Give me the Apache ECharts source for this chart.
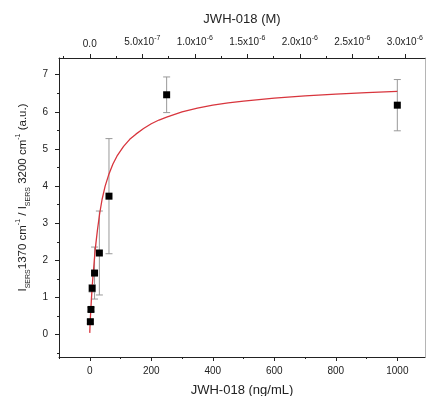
<!DOCTYPE html>
<html><head><meta charset="utf-8">
<script src="https://cdn.jsdelivr.net/npm/echarts@6/dist/echarts.min.js"></script>
<style>html,body{margin:0;padding:0;background:#fff}#c{width:427px;height:396px}</style>
</head><body><div id="c"></div>
<script>
// Measured data (ng/mL vs intensity ratio)
const concNgMl = [1.95, 3.9, 7.8, 15.6, 31.25, 62.5, 250, 1000];
const ratio    = [0.35, 0.68, 1.25, 1.66, 2.2, 3.73, 6.46, 6.18];
const ratioErr = [0.05, 0.05, 0.1, 0.7, 1.13, 1.55, 0.48, 0.69];
// Fitted curve
const fitX = [0, 1, 2, 3, 4, 6, 8, 10, 12, 16, 20, 25, 32, 40, 50, 62.5, 75, 90, 110, 130, 150, 175, 200, 225, 250, 300, 350, 400, 450, 500, 600, 700, 800, 900, 1000];
const fitY = [0.05, 0.27, 0.44, 0.61, 0.75, 1.04, 1.3, 1.52, 1.72, 2.13, 2.46, 2.82, 3.25, 3.64, 4.0, 4.33, 4.59, 4.83, 5.07, 5.26, 5.4, 5.55, 5.68, 5.78, 5.86, 6.0, 6.1, 6.18, 6.24, 6.29, 6.37, 6.43, 6.48, 6.52, 6.55];
// Tick labels
const bottomTicks = [0, 200, 400, 600, 800, 1000];
const bottomMinor = [-100, 100, 300, 500, 700, 900];
const leftTicks = [0, 1, 2, 3, 4, 5, 6, 7];
const leftMinor = [-0.5, 0.5, 1.5, 2.5, 3.5, 4.5, 5.5, 6.5];
const topTicks = [0, 5e-7, 1e-6, 1.5e-6, 2e-6, 2.5e-6, 3e-6];
const topMinor = [-2.5e-7, 2.5e-7, 7.5e-7, 1.25e-6, 1.75e-6, 2.25e-6, 2.75e-6];
const MOLAR_PER_NGML = 1e-6 / 341.4;

const X_MIN = -100, X_MAX = 1090, Y_MIN = -0.6, Y_MAX = 7.45;
const FONT = 'Liberation Sans, Arial, sans-serif';
const AX = '#222';

function topFmt(v) {
  if (Math.abs(v) < 1e-12) return '0.0';
  const e = Math.floor(Math.log10(v) + 1e-9);
  const m = (v / Math.pow(10, e)).toFixed(1);
  return m + 'x10{sup|' + e + '}';
}
function plainFmt(v) { return String(v); }

const chart = echarts.init(document.getElementById('c'), null, {renderer: 'canvas'});
const grid = {left: 59, right: 2, top: 58, bottom: 39, containLabel: false, outerBoundsMode: 'none'};
const lbl = {color: '#222', fontFamily: FONT, fontSize: 10};
const line = {show: true, onZero: false, lineStyle: {color: AX, width: 1}};
const noLine = {show: false, onZero: false};

chart.setOption({
  animation: false,
  backgroundColor: '#fff',
  grid: grid,
  xAxis: [
    {type: 'value', position: 'bottom', min: X_MIN, max: X_MAX,
     name: 'JWH-018 (ng/mL)', nameLocation: 'middle', nameGap: 27,
     nameTextStyle: {fontFamily: FONT, fontSize: 13, color: '#222'},
     axisLine: line,
     axisTick: {show: true, length: 4, customValues: bottomTicks, lineStyle: {color: AX}},
     axisLabel: Object.assign({customValues: bottomTicks, margin: 9, formatter: plainFmt}, lbl),
     splitLine: {show: false}},
    {type: 'value', position: 'bottom', min: X_MIN, max: X_MAX,
     axisLine: noLine,
     axisTick: {show: true, length: 2, customValues: bottomMinor, lineStyle: {color: AX}},
     axisLabel: {show: false}, splitLine: {show: false}},
    {type: 'value', position: 'top', min: X_MIN * MOLAR_PER_NGML, max: X_MAX * MOLAR_PER_NGML,
     name: 'JWH-018 (M)', nameLocation: 'middle', nameGap: 32,
     nameTextStyle: {fontFamily: FONT, fontSize: 13, color: '#222'},
     axisLine: line,
     axisTick: {show: true, length: 4, customValues: topTicks, lineStyle: {color: AX}},
     axisLabel: Object.assign({customValues: topTicks, margin: 9, formatter: topFmt,
       rich: {sup: {fontSize: 7, fontFamily: FONT, color: '#222', verticalAlign: 'top', lineHeight: 14}}}, lbl),
     splitLine: {show: false}},
    {type: 'value', position: 'top', min: X_MIN * MOLAR_PER_NGML, max: X_MAX * MOLAR_PER_NGML,
     axisLine: noLine,
     axisTick: {show: true, length: 2, customValues: topMinor, lineStyle: {color: AX}},
     axisLabel: {show: false}, splitLine: {show: false}}
  ],
  yAxis: [
    {type: 'value', position: 'left', min: Y_MIN, max: Y_MAX,
     name: 'I{sub|SERS}1370 cm{sup|-1} / I{sub|SERS} 3200 cm{sup|-1} (a.u.)',
     nameLocation: 'middle', nameGap: 27,
     nameTextStyle: {fontFamily: FONT, fontSize: 11.5, color: '#222', padding: [0, 0, 0, 20],
       width: 400, overflow: 'none',
       rich: {sub: {fontSize: 7, fontFamily: FONT, color: '#222', verticalAlign: 'bottom', lineHeight: 17},
              sup: {fontSize: 7, fontFamily: FONT, color: '#222', verticalAlign: 'top', lineHeight: 17}}},
     axisLine: line,
     axisTick: {show: true, length: 4, customValues: leftTicks, lineStyle: {color: AX}},
     axisLabel: Object.assign({customValues: leftTicks, margin: 11}, lbl),
     splitLine: {show: false}},
    {type: 'value', position: 'left', min: Y_MIN, max: Y_MAX,
     axisLine: noLine,
     axisTick: {show: true, length: 2, customValues: leftMinor, lineStyle: {color: AX}},
     axisLabel: {show: false}, splitLine: {show: false}},
    {type: 'value', position: 'right', min: Y_MIN, max: Y_MAX,
     axisLine: {show: true, onZero: false, lineStyle: {color: '#b5b5b5', width: 1}},
     axisTick: {show: false}, axisLabel: {show: false}, splitLine: {show: false}}
  ],
  series: [
    {type: 'custom', xAxisIndex: 0, yAxisIndex: 0, z: 1,
     data: concNgMl.map((x, i) => [x, ratio[i] - ratioErr[i], ratio[i] + ratioErr[i]]),
     encode: {x: 0, y: [1, 2]},
     renderItem: function (params, api) {
       const x = api.value(0);
       const p1 = api.coord([x, api.value(2)]);
       const p2 = api.coord([x, api.value(1)]);
       const w = 3.5;
       const st = {stroke: '#999', lineWidth: 1};
       return {type: 'group', children: [
         {type: 'line', shape: {x1: p1[0], y1: p1[1], x2: p2[0], y2: p2[1]}, style: st},
         {type: 'line', shape: {x1: p1[0] - w, y1: p1[1], x2: p1[0] + w, y2: p1[1]}, style: st},
         {type: 'line', shape: {x1: p2[0] - w, y1: p2[1], x2: p2[0] + w, y2: p2[1]}, style: st}
       ]};
     }},
    {type: 'line', xAxisIndex: 0, yAxisIndex: 0, z: 2,
     data: fitX.map((x, i) => [x, fitY[i]]),
     smooth: false, showSymbol: false,
     lineStyle: {color: '#d8353d', width: 1.3}},
    {type: 'scatter', xAxisIndex: 0, yAxisIndex: 0, z: 3,
     data: concNgMl.map((x, i) => [x, ratio[i]]),
     symbol: 'rect', symbolSize: 7,
     itemStyle: {color: '#000', opacity: 1}}
  ]
});
</script></body></html>
